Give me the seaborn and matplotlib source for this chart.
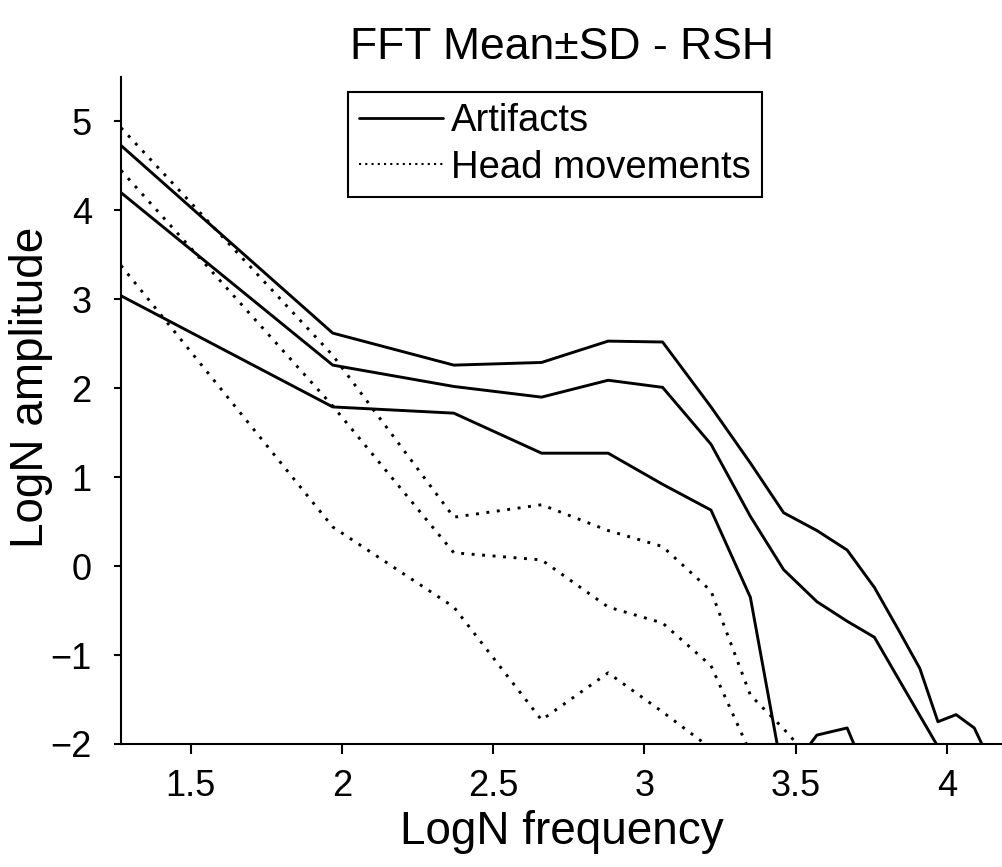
import numpy as np
import pandas as pd
import seaborn as sns
import matplotlib.pyplot as plt
from matplotlib.lines import Line2D

# LogN frequency bins
freq = [1.27, 1.97, 2.37, 2.66, 2.88, 3.06, 3.22, 3.35, 3.46, 3.57, 3.67, 3.76, 3.84, 3.91, 3.97, 4.03, 4.09, 4.15]

# Artifacts: mean+SD, mean, mean-SD (LogN amplitude)
art_upper = [4.73, 2.62, 2.26, 2.29, 2.53, 2.52, 1.79, 1.16, 0.60, 0.40, 0.18, -0.24, -0.72, -1.15, -1.75, -1.67, -1.82, -2.25]
art_mean = [4.20, 2.26, 2.02, 1.90, 2.09, 2.01, 1.37, 0.56, -0.04, -0.40, -0.62, -0.80, -1.27, -1.68, -2.03, -2.50, -2.80, -3.00]
art_lower = [3.04, 1.79, 1.72, 1.27, 1.27, 0.92, 0.63, -0.35, -2.40, -1.90, -1.82, -2.55, -2.80, -3.00, -3.20, -3.40, -3.60, -3.80]

# Head movements: mean+SD, mean, mean-SD
head_upper = [4.93, 2.37, 0.55, 0.69, 0.40, 0.22, -0.28, -1.45, -1.83, -2.25, -2.60, -2.90, -3.10, -3.30, -3.50, -3.70, -3.90, -4.10]
head_mean = [4.45, 1.80, 0.15, 0.07, -0.46, -0.64, -1.12, -2.10, -2.50, -2.80, -3.00, -3.20, -3.40, -3.60, -3.80, -4.00, -4.20, -4.40]
head_lower = [3.38, 0.44, -0.46, -1.73, -1.20, -1.64, -2.05, -2.60, -2.90, -3.20, -3.40, -3.60, -3.80, -4.00, -4.20, -4.40, -4.60, -4.80]

xticks = [1.5, 2, 2.5, 3, 3.5, 4]
yticks = [-2, -1, 0, 1, 2, 3, 4, 5]

sns.set_style('ticks')
plt.rcParams['font.family'] = ['Liberation Sans', 'DejaVu Sans']
plt.rcParams['text.color'] = 'black'
plt.rcParams['axes.labelcolor'] = 'black'

fig = plt.figure(figsize=(10.03, 8.67), dpi=100)
ax = fig.add_axes([0.1206, 0.1419, 0.8794, 0.7693])

dot = (0, (1, 2.6))
series = [
    (art_upper, '-'), (art_mean, '-'), (art_lower, '-'),
    (head_upper, dot), (head_mean, dot), (head_lower, dot),
]
for vals, ls in series:
    sns.lineplot(x=freq, y=vals, color='black', linewidth=2.1, linestyle=ls, ax=ax)

ax.set_xlim(1.27, 4.185)
ax.set_ylim(-2, 5.5)
ax.set_xticks(xticks)
ax.set_xticklabels([f'{t:g}' for t in xticks])
ax.set_yticks(yticks)

sns.despine(ax=ax)
for s in ['left', 'bottom']:
    ax.spines[s].set_linewidth(1.5)
    ax.spines[s].set_color('black')
ax.tick_params(axis='x', direction='out', length=7, width=1.5, labelsize=26, pad=11,
               colors='black')
ax.tick_params(axis='y', direction='out', length=5, width=1.5, labelsize=26, pad=16,
               colors='black')

ax.set_title('FFT Mean±SD - RSH', fontsize=32, pad=13, color='black')
ax.set_xlabel('LogN frequency', fontsize=33, labelpad=4)
ax.set_ylabel('LogN amplitude', fontsize=33)
ax.yaxis.set_label_coords(-0.077, 0.534)

handles = [Line2D([], [], color='black', linewidth=2, linestyle='-'),
           Line2D([], [], color='black', linewidth=1.5, linestyle=(0, (1, 2)))]
leg = ax.legend(handles, ['Artifacts', 'Head movements'], loc='upper left',
                bbox_to_anchor=(0.257, 0.978), borderaxespad=0, frameon=True,
                fancybox=False, edgecolor='black', framealpha=1, fontsize=27.5,
                handlelength=2.2, handletextpad=0.2, borderpad=0.3, labelspacing=0.28)
leg.get_frame().set_linewidth(1.5)
for t in leg.get_texts():
    t.set_color('black')

plt.savefig('out.png', dpi=100)
